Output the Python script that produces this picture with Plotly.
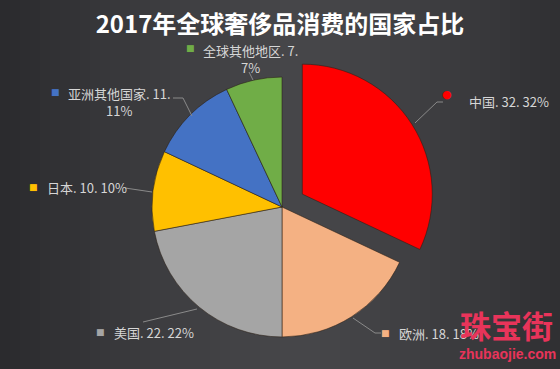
import plotly.graph_objects as go

# ---- data ----
regions = ["中国", "欧洲", "美国", "日本", "亚洲其他国家", "全球其他地区"]
values = [32, 18, 22, 10, 11, 7]
percents = [32, 18, 22, 10, 11, 7]
colors = ["#FF0000", "#F4B183", "#A5A5A5", "#FFC000", "#4472C4", "#70AD47"]
pulls = [0.185, 0, 0, 0, 0, 0]
title_text = "2017年全球奢侈品消费的国家占比"
watermark_cn = "珠宝街"
watermark_en = "zhubaojie.com"

W, H = 560, 369


def px(x):
    return x / W


def py(y):
    return 1 - y / H


# label layout (pixel positions: marker, text-left, text-top/middle, wrap?)
label_layout = [
    dict(marker=(447, 94), sym="●", msize=11, tx=467, ty=102, wrap=False,
         line=[(415, 123), (437, 102), (443, 102)]),
    dict(marker=(385, 333), sym="■", msize=9, tx=397, ty=333, wrap=False,
         line=[(353, 318), (375, 333), (381, 333)]),
    dict(marker=(100, 332), sym="■", msize=9, tx=112, ty=332, wrap=False,
         line=[(197, 309), (143, 322)]),
    dict(marker=(33, 187), sym="■", msize=9, tx=45, ty=187, wrap=False,
         line=[(152, 192), (125, 188)]),
    dict(marker=(55, 92), sym="■", msize=9, tx=67, ty=83, wrap=True,
         line=[(192, 116), (183, 98), (173, 98)]),
    dict(marker=(190, 48), sym="■", msize=9, tx=202, ty=40, wrap=True,
         line=[(253, 80), (249, 72)]),
]

fig = go.Figure()

fig.add_trace(go.Pie(
    labels=regions,
    values=values,
    sort=False,
    direction="clockwise",
    rotation=0,
    pull=pulls,
    marker=dict(colors=colors, line=dict(color="rgba(40,30,20,0.55)", width=1)),
    textinfo="none",
    hoverinfo="label+value+percent",
    showlegend=False,
    domain=dict(x=[128 / W, 436 / W], y=[1 - 361 / H, 1 - 53 / H]),
))

shapes = []
# background horizontal gradient (lighter centre, darker sides)
n = 56
for i in range(n):
    x0 = i * W / n
    x1 = (i + 1) * W / n
    xc = (x0 + x1) / 2
    d = abs(xc - 300) / 300
    t = min(1.0, d) ** 1.4
    c0 = (70, 70, 73)
    c1 = (42, 42, 45)
    col = tuple(int(round(c0[k] + (c1[k] - c0[k]) * t)) for k in range(3))
    shapes.append(dict(type="rect", xref="paper", yref="paper",
                       x0=px(x0), x1=px(x1) + 0.002, y0=0, y1=1,
                       fillcolor="rgb(%d,%d,%d)" % col, line=dict(width=0),
                       layer="below"))

LABEL_FONT = dict(size=13, color="#d6d6d6", family="Noto Sans CJK SC")

annotations = []
for i, (name, v, p, col, lay) in enumerate(zip(regions, values, percents, colors, label_layout)):
    # leader line
    pts = lay["line"]
    path = "M " + " L ".join("%f,%f" % (px(x), py(y)) for x, y in pts)
    shapes.append(dict(type="path", xref="paper", yref="paper", path=path,
                       line=dict(color="#8a8a8a", width=1)))
    # marker
    mx, my = lay["marker"]
    annotations.append(dict(x=px(mx), y=py(my), xref="paper", yref="paper",
                            text=lay["sym"], showarrow=False,
                            font=dict(size=lay["msize"], color=col,
                                      family="DejaVu Sans"),
                            xanchor="center", yanchor="middle"))
    if lay["wrap"]:
        annotations.append(dict(x=px(lay["tx"]), y=py(lay["ty"]), xref="paper", yref="paper",
                                text=f"{name}. {v}.<br>{p}%", showarrow=False,
                                font=LABEL_FONT, align="center",
                                xanchor="left", yanchor="top", borderpad=0))
    else:
        annotations.append(dict(x=px(lay["tx"]), y=py(lay["ty"]), xref="paper", yref="paper",
                                text=f"{name}. {v}. {p}%", showarrow=False,
                                font=LABEL_FONT,
                                xanchor="left", yanchor="middle"))

# watermark
annotations.append(dict(x=px(506), y=py(324), xref="paper", yref="paper",
                        text="<b>" + watermark_cn + "</b>", showarrow=False,
                        font=dict(size=31, color="#E8345A", family="Noto Sans CJK SC"),
                        xanchor="center", yanchor="middle", borderpad=0))
annotations.append(dict(x=px(507), y=py(345), xref="paper", yref="paper",
                        text="<b>" + watermark_en + "</b>", showarrow=False,
                        font=dict(size=14, color="#E8345A", family="Liberation Sans"),
                        xanchor="center", yanchor="top", borderpad=0))

fig.update_layout(
    width=W, height=H,
    margin=dict(l=0, r=0, t=0, b=0),
    paper_bgcolor="#3a3a3d",
    plot_bgcolor="#3a3a3d",
    title=dict(text="<b>" + title_text + "</b>", x=0.5, xanchor="center",
               y=1 - 25 / H, yanchor="middle", yref="container",
               font=dict(size=24, color="#ffffff", family="Noto Sans CJK SC")),
    shapes=shapes,
    annotations=annotations,
)

fig.write_html("out.html", config={"displayModeBar": False},
               post_script="document.body.style.margin='0';document.body.style.overflow='hidden';")
